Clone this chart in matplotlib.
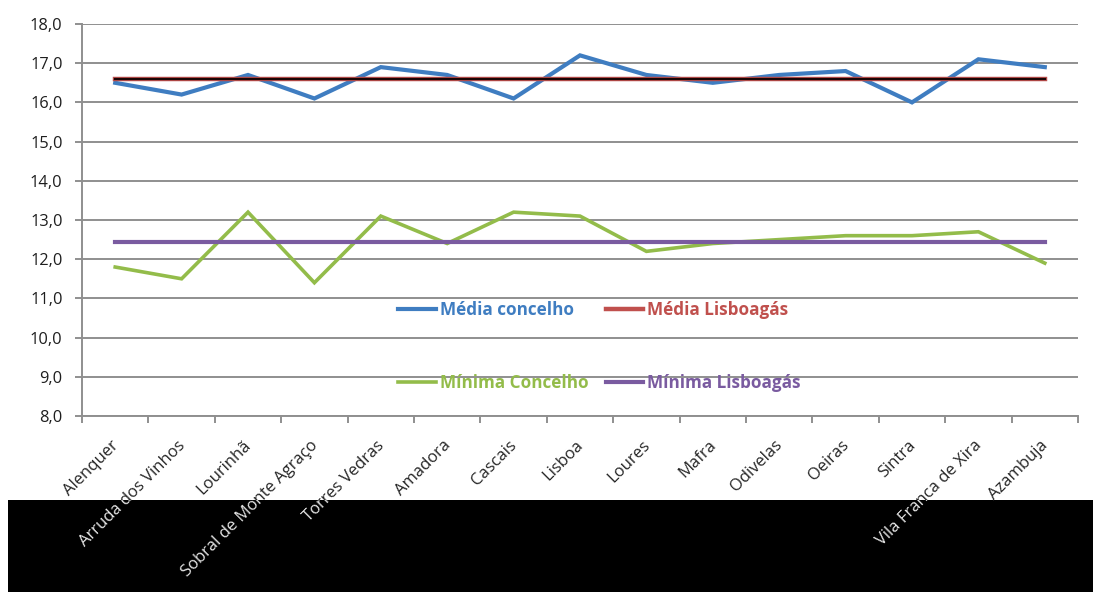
import matplotlib
matplotlib.use("Agg")
import matplotlib.pyplot as plt
from matplotlib.patches import Rectangle
from matplotlib.transforms import Bbox, TransformedBbox, ScaledTranslation
from matplotlib.ticker import FuncFormatter, MultipleLocator

concelhos = ["Alenquer", "Arruda dos Vinhos", "Lourinhã", "Sobral de Monte Agraço",
             "Torres Vedras", "Amadora", "Cascais", "Lisboa", "Loures", "Mafra",
             "Odivelas", "Oeiras", "Sintra", "Vila Franca de Xira", "Azambuja"]
media_concelho = [16.5, 16.2, 16.7, 16.1, 16.9, 16.7, 16.1, 17.2, 16.7, 16.5,
                  16.7, 16.8, 16.0, 17.1, 16.9]
minima_concelho = [11.8, 11.5, 13.2, 11.4, 13.1, 12.4, 13.2, 13.1, 12.2, 12.4,
                   12.5, 12.6, 12.6, 12.7, 11.9]
media_lisboagas = 16.6
minima_lisboagas = 12.45

plt.rcParams['font.family'] = ['Open Sans', 'DejaVu Sans']

W, H = 1093, 592
fig = plt.figure(figsize=(W / 100, H / 100), dpi=100)
fig.patch.set_facecolor("white")
ax = fig.add_axes([82 / W, 1 - 416 / H, (1078 - 82) / W, (416 - 24) / H])

x = list(range(len(concelhos)))
n = len(concelhos)

c_blue = "#3F7DC1"
c_red = "#C0504D"
c_green = "#93BC4A"
c_purple = "#7A5BA0"

ax.plot(x, media_concelho, color=c_blue, lw=3.0, solid_joinstyle="miter",
        label="Média concelho", zorder=4)
ax.plot(x, minima_concelho, color=c_green, lw=2.6, solid_joinstyle="miter",
        label="Mínima Concelho", zorder=4)
ax.plot(x, [media_lisboagas] * n, color=c_red, lw=3.2, label="Média Lisboagás", zorder=5)
ax.plot(x, [media_lisboagas] * n, color="#1a0505", lw=1.6, zorder=6)
ax.plot(x, [minima_lisboagas] * n, color=c_purple, lw=3.0,
        label="Mínima Lisboagás", zorder=5)

ax.set_xlim(-0.5, n - 0.5)
ax.set_ylim(8, 18)
ax.yaxis.set_major_locator(MultipleLocator(1))
ax.yaxis.set_major_formatter(FuncFormatter(lambda v, p: f"{v:.1f}".replace(".", ",")))
ax.grid(axis="y", color="#8f8f8f", lw=1.4)
ax.set_axisbelow(True)

for s in ("top", "right"):
    ax.spines[s].set_visible(False)
for s in ("left", "bottom"):
    ax.spines[s].set_color("#8f8f8f")
    ax.spines[s].set_linewidth(1.4)

ax.set_xticks([i - 0.5 for i in range(n + 1)])
ax.set_xticklabels([])
ax.tick_params(axis="x", length=5, width=1.4, color="#8f8f8f")
ax.tick_params(axis="y", length=5, width=1.4, color="#8f8f8f",
               labelsize=11.8, labelcolor="#1e1e1e", pad=9)

# category labels, rotated
lbl_size = 12
off = ScaledTranslation(1 / 100, -27 / 100, fig.dpi_scale_trans)
lbl_tr = ax.get_xaxis_transform() + off
for i, name in enumerate(concelhos):
    ax.text(i, 0, name, transform=lbl_tr, rotation=45, rotation_mode="anchor",
            ha="right", va="center", fontsize=lbl_size, color="#262626", clip_on=False)

# black band along the bottom, with the labels showing white over it
band = Rectangle((8 / W, 0), 1 - 8 / W, (H - 500) / H, transform=fig.transFigure,
                 facecolor="black", edgecolor="none", zorder=1)
fig.patches.append(band)
band_box = TransformedBbox(Bbox.from_extents(8 / W, 0, 1, (H - 500) / H), fig.transFigure)
for i, name in enumerate(concelhos):
    t = fig.text(i, 0, name, transform=lbl_tr, rotation=45, rotation_mode="anchor",
                 ha="right", va="center", fontsize=lbl_size, color="#e6e6e6", zorder=2)
    t.set_clip_box(band_box)
    t.set_clip_on(True)

handles, labels = ax.get_legend_handles_labels()
leg = ax.legend(handles, labels, ncol=2,
                loc="center left", bbox_to_anchor=(398 / W, 1 - 346.5 / H),
                bbox_transform=fig.transFigure, frameon=False,
                prop={"weight": "bold", "size": 12.3}, handlelength=2.2,
                handletextpad=0.25, columnspacing=1.0, labelspacing=3.2,
                borderpad=0, borderaxespad=0)
for txt, h in zip(leg.get_texts(), leg.legend_handles):
    txt.set_color(h.get_color())

fig.savefig("out.png", dpi=100)
